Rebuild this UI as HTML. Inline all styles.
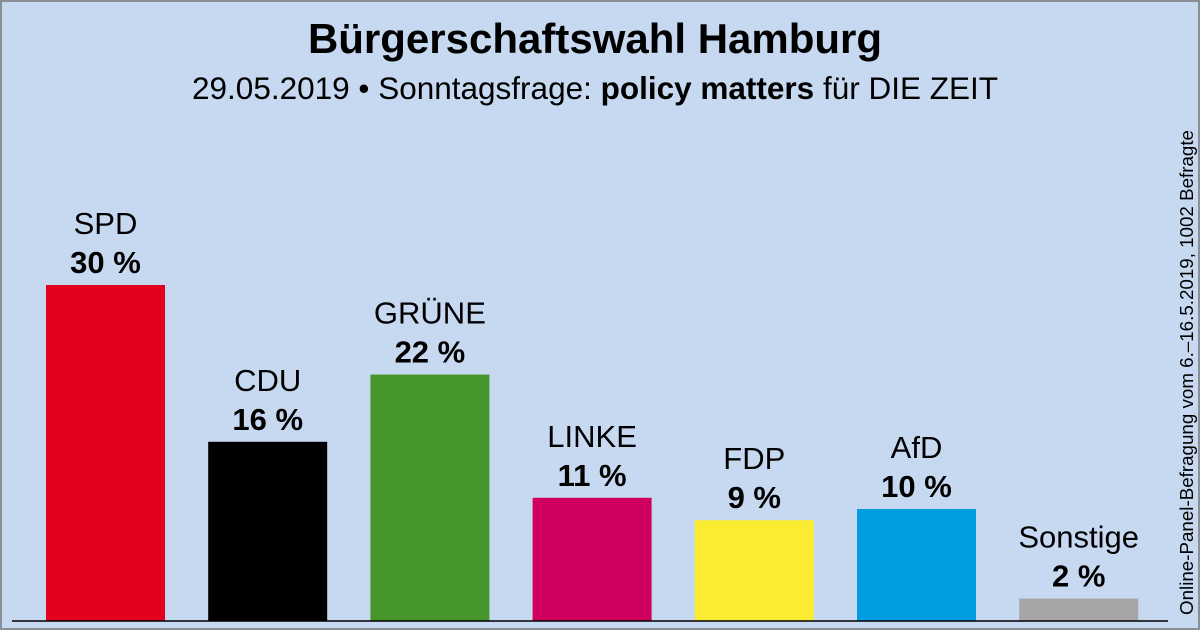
<!DOCTYPE html>
<html><head><meta charset="utf-8"><style>
body{margin:0;width:1200px;height:630px;overflow:hidden;background:#c6d9f0;font-family:"Liberation Sans",sans-serif}
svg{display:block}
</style></head><body>
<svg width="1200" height="630">
<rect x="1" y="1" width="1198" height="628" fill="#c6d9f0" stroke="#8a8f96" stroke-width="2"/>
<text x="595" y="53" text-anchor="middle" font-size="42" font-weight="bold">Bürgerschaftswahl Hamburg</text>
<text x="595" y="99" text-anchor="middle" font-size="31.5">29.05.2019 • Sonntagsfrage: <tspan font-weight="bold">policy matters</tspan> für DIE ZEIT</text>
<g id="bars"></g>
<line x1="12" y1="621" x2="1168" y2="621" stroke="#000" stroke-width="1.5"/>
<text transform="translate(1193,615) rotate(-90)" font-size="18" textLength="485" lengthAdjust="spacingAndGlyphs">Online-Panel-Befragung vom 6.–16.5.2019, 1002 Befragte</text>
</svg>
<script>
const parties=["SPD","CDU","GRÜNE","LINKE","FDP","AfD","Sonstige"];
const values=[30,16,22,11,9,10,2];
const colors=["#e3001f","#000000","#46962b","#d0005f","#fbec31","#009ee0","#a6a6a6"];
const base=621, scale=11.2, x0=46, step=162.2, bw=119;
const y=v=>base-v*scale;
const g=document.getElementById('bars');
const NS="http://www.w3.org/2000/svg";
parties.forEach((p,i)=>{
  const x=x0+i*step, top=y(values[i]);
  const r=document.createElementNS(NS,'rect');
  r.setAttribute('x',x);r.setAttribute('y',top);r.setAttribute('width',bw);r.setAttribute('height',base-top);r.setAttribute('fill',colors[i]);
  
  
  g.appendChild(r);
  const t1=document.createElementNS(NS,'text');
  t1.setAttribute('x',x+bw/2);t1.setAttribute('y',top-51);t1.setAttribute('text-anchor','middle');t1.setAttribute('font-size','31');
  t1.textContent=p;
  
  
  g.appendChild(t1);
  const t2=document.createElementNS(NS,'text');
  t2.setAttribute('x',x+bw/2);t2.setAttribute('y',top-12);t2.setAttribute('text-anchor','middle');t2.setAttribute('font-size','31');t2.setAttribute('font-weight','bold');
  t2.textContent=values[i]+' %';
  
  
  g.appendChild(t2);
});
</script>
</body></html>
